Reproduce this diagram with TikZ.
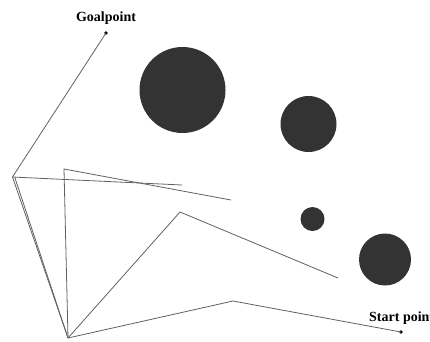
\documentclass[tikz,border=0pt]{standalone}
\usepackage{fontspec}
\setmainfont{Liberation Serif}
\begin{document}
\begin{tikzpicture}[x=1pt,y=-1pt,
  path/.style={draw=black!62,line width=0.8pt},
  obstacle/.style={circle,fill=black!80,inner sep=0pt,minimum size=#1},
  endpoint/.style={circle,fill=black,inner sep=0pt,minimum size=3.6pt},
  tag/.style={font=\bfseries\fontsize{14}{16}\selectfont,inner sep=0pt}]
\useasboundingbox[fill=white] (0,0) rectangle (430,341);
% obstacles
\node[obstacle=86pt] (o1) at (182.5,90) {};
\node[obstacle=56pt] (o2) at (308.5,124) {};
\node[obstacle=24pt] (o3) at (312.5,219) {};
\node[obstacle=52pt] (o4) at (385,259.5) {};
% start and goal
\node[endpoint] (goal) at (106,33) {};
\node[endpoint] (start) at (401,332) {};
\node[tag,anchor=base] (goallabel) at (106,21) {Goalpoint};
\node[tag,anchor=base west] (startlabel) at (369,321) {Start point};
% waypoints
\coordinate (L) at (12.5,177);
\coordinate (L2) at (15,178);
\coordinate (B) at (68,338);
\coordinate (V) at (64,169);
\coordinate (M) at (180,212);
\coordinate (W) at (233,301);
\coordinate (e1) at (182,185);
\coordinate (e2) at (231,200);
\coordinate (e3) at (338,278);
% candidate paths
\draw[path] (start.center) -- (W) -- (B) -- (L) -- (goal.center);
\draw[path] (L) -- (e1);
\draw[path] (L2) -- (B);
\draw[path] (B) -- (V) -- (e2);
\draw[path] (B) -- (M) -- (e3);
\end{tikzpicture}
\end{document}
